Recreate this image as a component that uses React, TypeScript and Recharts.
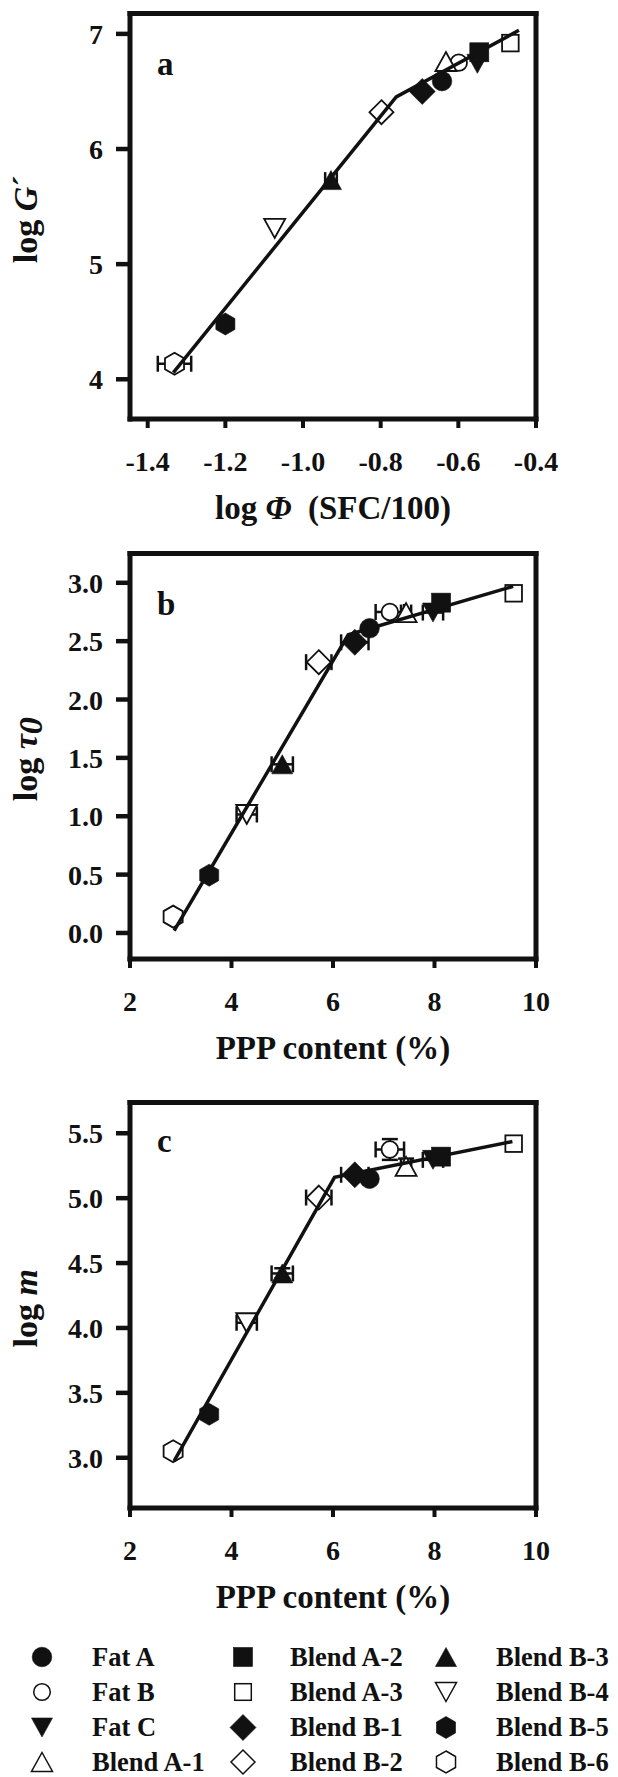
import React from "react";
import { ScatterChart, Scatter, XAxis, YAxis, ErrorBar, ReferenceLine } from "recharts";

const seriesNames = [
  "Fat A", "Fat B", "Fat C", "Blend A-1", "Blend A-2", "Blend A-3",
  "Blend B-1", "Blend B-2", "Blend B-3", "Blend B-4", "Blend B-5", "Blend B-6",
];
const seriesShapes = [
  "circle", "circle", "triDown", "triUp", "square", "square",
  "diamond", "diamond", "triUp", "triDown", "hexagon", "hexagon",
];
const seriesFilled = [true, false, true, false, true, false, true, false, true, false, true, false];

// panel a: log G' vs log phi
const logPhi = [-0.642, -0.599, -0.551, -0.632, -0.546, -0.466, -0.693, -0.798, -0.928, -1.073, -1.2, -1.331];
const logPhiErr = [0, 0, 0, 0, 0, 0, 0, 0, 0.015, 0, 0, 0.043];
const logG = [6.59, 6.75, 6.74, 6.76, 6.84, 6.92, 6.5, 6.32, 5.73, 5.31, 4.48, 4.135];
const fitPhi = [-1.334, -0.76, -0.444];
const fitG = [4.058, 6.453, 7.031];

// panels b and c: PPP content
const ppp = [6.72, 7.12, 7.97, 7.44, 8.13, 9.56, 6.43, 5.72, 5.0, 4.3, 3.56, 2.85];
const pppErr = [0, 0.28, 0.2, 0.1, 0, 0, 0.27, 0.25, 0.21, 0.2, 0, 0];
const logTau = [2.61, 2.75, 2.745, 2.745, 2.83, 2.91, 2.49, 2.32, 1.445, 1.015, 0.495, 0.14];
const fitPppB = [2.87, 6.3, 9.55];
const fitTau = [0.02, 2.555, 2.97];
const logM = [5.15, 5.375, 5.295, 5.245, 5.32, 5.42, 5.18, 5.005, 4.42, 4.04, 3.335, 3.05];
const logMErr = [0, 0.08, 0, 0.06, 0, 0, 0, 0, 0.04, 0, 0, 0];
const fitPppC = [2.868, 6.03, 9.535];
const fitM = [2.974, 5.16, 5.436];

const phiTicks = [-1.4, -1.2, -1.0, -0.8, -0.6, -0.4];
const gTicks = [4, 5, 6, 7];
const pppTicks = [2, 4, 6, 8, 10];
const tauTicks = [0, 0.5, 1, 1.5, 2, 2.5, 3];
const mTicks = [3, 3.5, 4, 4.5, 5, 5.5];

const FONT = "'Liberation Serif', 'Times New Roman', Times, serif";
const INK = "#111";
const W = 618;
const H = 540;
const PL = 130;
const PR = 536;
const PT = 13.5;
const PB = 419;

const frame = { stroke: INK, strokeWidth: 5, strokeLinecap: "square" };

function Marker({ cx, cy, kind, filled, legend = false }: any) {
  if (cx == null || cy == null) return null;
  const fill = filled ? INK : "#fff";
  const common = { fill, stroke: INK, strokeWidth: filled ? 0.6 : legend ? 1.5 : 1.8 };
  if (kind === "circle") {
    return <circle cx={cx} cy={cy} r={filled ? 9.8 : 8.3} {...common} />;
  }
  if (kind === "square") {
    const h = filled ? 9.5 : 8.3;
    return <rect x={cx - h} y={cy - h} width={2 * h} height={2 * h} {...common} />;
  }
  if (kind === "triUp" || kind === "triDown") {
    const w = 10.5;
    const h = 9.5;
    const s = kind === "triUp" ? 1 : -1;
    const pts = `${cx},${cy - s * h} ${cx + w},${cy + s * h} ${cx - w},${cy + s * h}`;
    return <polygon points={pts} {...common} />;
  }
  if (kind === "diamond") {
    const h = filled ? 13 : 12;
    const pts = `${cx},${cy - h} ${cx + h},${cy} ${cx},${cy + h} ${cx - h},${cy}`;
    return <polygon points={pts} {...common} />;
  }
  const r = 11;
  const pts = [-90, -30, 30, 90, 150, 210]
    .map((a) => `${cx + r * Math.cos((a * Math.PI) / 180)},${cy + r * Math.sin((a * Math.PI) / 180)}`)
    .join(" ");
  return <polygon points={pts} {...common} />;
}

function XTick({ x, payload, digits }: any) {
  return (
    <text x={x} y={PB + 52} textAnchor="middle" fontFamily={FONT} fontWeight="bold" fontSize={28} fill={INK}>
      {Number(payload.value).toFixed(digits)}
    </text>
  );
}

function YTick({ y, payload, digits }: any) {
  return (
    <text x={PL - 27} y={y + 10} textAnchor="end" fontFamily={FONT} fontWeight="bold" fontSize={28} fill={INK}>
      {Number(payload.value).toFixed(digits)}
    </text>
  );
}

function buildPoints(xs: number[], ys: number[], exs: number[], eys: number[]) {
  return seriesNames.map((name, i) => ({ name, x: xs[i], y: ys[i], ex: exs[i], ey: eys[i] }));
}

function buildFit(xs: number[], ys: number[]) {
  return xs.map((x, i) => ({ x, y: ys[i] }));
}

function Panel({ top, points, fit, xDomain, yDomain, xTicks, yTicks, xDigits, yDigits, letter, letterDy, xTitle, yTitle }: any) {
  return (
    <div style={{ position: "absolute", left: 0, top }}>
      <ScatterChart width={W} height={H} margin={{ top: PT, right: W - PR, bottom: 0, left: 0 }}>
        <XAxis
          type="number"
          dataKey="x"
          domain={xDomain}
          ticks={xTicks}
          interval={0}
          allowDataOverflow
          height={H - PB}
          axisLine={frame}
          tickLine={{ stroke: INK, strokeWidth: 4 }}
          tickSize={9}
          tick={<XTick digits={xDigits} />}
          label={() => (
            <text x={(PL + PR) / 2} y={PB + 100} textAnchor="middle" fontFamily={FONT} fontWeight="bold" fontSize={33} fill={INK}>
              {xTitle}
            </text>
          )}
        />
        <YAxis
          type="number"
          dataKey="y"
          domain={yDomain}
          ticks={yTicks}
          interval={0}
          allowDataOverflow
          width={PL}
          axisLine={frame}
          tickLine={{ stroke: INK, strokeWidth: 4.5 }}
          tickSize={14}
          tick={<YTick digits={yDigits} />}
          label={() => (
            <g>
              <text
                transform={`translate(37, ${(PT + PB) / 2 + 3}) rotate(-90)`}
                textAnchor="middle"
                fontFamily={FONT}
                fontWeight="bold"
                fontSize={34}
                fill={INK}
              >
                {yTitle}
              </text>
              <text x={PL + 27} y={PT + letterDy} fontFamily={FONT} fontWeight="bold" fontSize={33} fill={INK}>
                {letter}
              </text>
            </g>
          )}
        />
        <ReferenceLine x={xDomain[1]} stroke={INK} strokeWidth={5} strokeLinecap="square" />
        <ReferenceLine y={yDomain[1]} stroke={INK} strokeWidth={5} strokeLinecap="square" />
        {points.map((d: any, i: number) => (
          <Scatter
            key={d.name}
            name={d.name}
            data={[d]}
            isAnimationActive={false}
            shape={(p: any) => <Marker cx={p.cx} cy={p.cy} kind={seriesShapes[i]} filled={seriesFilled[i]} />}
          >
            {d.ex > 0 && (
              <ErrorBar dataKey="ex" direction="x" width={8} stroke={INK} strokeWidth={2.5} isAnimationActive={false} />
            )}
            {d.ey > 0 && (
              <ErrorBar dataKey="ey" direction="y" width={8} stroke={INK} strokeWidth={2.5} isAnimationActive={false} />
            )}
          </Scatter>
        ))}
        <Scatter
          name="fit"
          data={fit}
          line={{ stroke: INK, strokeWidth: 3.5 }}
          shape={() => <g />}
          isAnimationActive={false}
        />
      </ScatterChart>
    </div>
  );
}

const legendColumns = [
  [0, 1, 2, 3],
  [4, 5, 6, 7],
  [8, 9, 10, 11],
];
const legendMarkerX = [42, 243, 446];
const legendLabelX = [92, 290, 496];
const legendRowY = [29, 64, 99.5, 134];

function LegendBlock() {
  return (
    <svg width={W} height={149} style={{ position: "absolute", left: 0, top: 1628, overflow: "visible" }}>
      {legendColumns.map((col, c) =>
        col.map((idx, r) => (
          <g key={seriesNames[idx]}>
            <Marker cx={legendMarkerX[c]} cy={legendRowY[r]} kind={seriesShapes[idx]} filled={seriesFilled[idx]} legend />
            <text x={legendLabelX[c]} y={legendRowY[r] + 8.5} fontFamily={FONT} fontWeight="bold" fontSize={26.5} fill={INK}>
              {seriesNames[idx]}
            </text>
          </g>
        ))
      )}
    </svg>
  );
}

export default function App() {
  const pointsA = buildPoints(logPhi, logG, logPhiErr, seriesNames.map(() => 0));
  const pointsB = buildPoints(ppp, logTau, pppErr, seriesNames.map(() => 0));
  const pointsC = buildPoints(ppp, logM, pppErr, logMErr);

  return (
    <div style={{ position: "absolute", left: 0, top: 0, width: W, height: 1777, background: "#fff", overflow: "hidden" }}>
      <Panel
        top={0}
        points={pointsA}
        fit={buildFit(fitPhi, fitG)}
        xDomain={[-1.4456, -0.4]}
        yDomain={[3.655, 7.177]}
        xTicks={phiTicks}
        yTicks={gTicks}
        xDigits={1}
        yDigits={0}
        letter="a"
        letterDy={61}
        xTitle={
          <>
            log <tspan fontStyle="italic">Φ</tspan>
            {"\u00a0 (SFC/100)"}
          </>
        }
        yTitle={
          <>
            log <tspan fontStyle="italic">G</tspan>´
          </>
        }
      />
      <Panel
        top={540}
        points={pointsB}
        fit={buildFit(fitPppB, fitTau)}
        xDomain={[2, 10]}
        yDomain={[-0.223, 3.251]}
        xTicks={pppTicks}
        yTicks={tauTicks}
        xDigits={0}
        yDigits={1}
        letter="b"
        letterDy={61}
        xTitle="PPP content (%)"
        yTitle={
          <>
            log <tspan fontStyle="italic">τ</tspan>
            <tspan fontStyle="italic" dy={5}>0</tspan>
          </>
        }
      />
      <Panel
        top={1089}
        points={pointsC}
        fit={buildFit(fitPppC, fitM)}
        xDomain={[2, 10]}
        yDomain={[2.613, 5.737]}
        xTicks={pppTicks}
        yTicks={mTicks}
        xDigits={0}
        yDigits={1}
        letter="c"
        letterDy={49}
        xTitle="PPP content (%)"
        yTitle={
          <>
            log <tspan fontStyle="italic">m</tspan>
          </>
        }
      />
      <LegendBlock />
    </div>
  );
}
